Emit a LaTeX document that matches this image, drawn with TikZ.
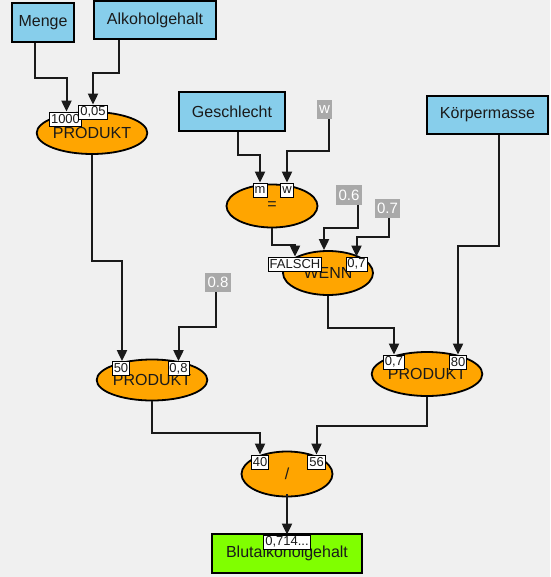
\documentclass[tikz,border=0pt]{standalone}
\usepackage{fontspec}
\setmainfont{Liberation Sans}
\usetikzlibrary{shapes.geometric,arrows.meta}
\definecolor{bg}{HTML}{F0F0F0}
\definecolor{sky}{HTML}{87CEEB}
\definecolor{org}{HTML}{FFA500}
\definecolor{grn}{HTML}{80FF00}
\definecolor{gry}{HTML}{A9A9A9}
\definecolor{txt}{HTML}{1A1A1A}
\begin{document}
\begin{tikzpicture}[x=1pt,y=-1pt,
  inbox/.style={rectangle,draw=black,line width=1.8pt,fill=sky,inner sep=0pt,text=txt,font=\fontsize{16}{18}\selectfont},
  op/.style={ellipse,draw=black,line width=1.8pt,fill=org,inner sep=0pt,text=txt,font=\fontsize{16}{18}\selectfont},
  const/.style={rectangle,fill=gry,text=white,inner xsep=2.5pt,inner ysep=0pt,minimum height=19pt,font=\fontsize{15}{17}\selectfont},
  val/.style={rectangle,draw=black,line width=0.8pt,fill=white,inner xsep=1.5pt,inner ysep=0pt,minimum height=14pt,text=txt,font=\fontsize{13}{14}\selectfont},
  conn/.style={line width=2pt,draw=txt,-{Triangle[width=10pt,length=11pt]}}]
\useasboundingbox (0,0) rectangle (550,577);
\fill[bg] (0,0) rectangle (550,577);

% input boxes
\node[inbox,minimum width=62pt,minimum height=39pt] (menge) at (43,22.5) {Menge};
\node[inbox,minimum width=122pt,minimum height=38pt] (alk) at (155,20) {Alkoholgehalt};
\node[inbox,minimum width=106pt,minimum height=39pt] (gesch) at (232,111.5) {Geschlecht};
\node[inbox,minimum width=121pt,minimum height=38pt] (koerp) at (487.5,115) {Körpermasse};
\node[inbox,fill=grn,minimum width=150pt,minimum height=39pt] (blut) at (287,553.5) {Blutalkoholgehalt};

% constants
\node[const] (cw) at (324.5,109.5) {w};
\node[const] (c06) at (349,195) {0.6};
\node[const] (c07) at (387.5,208.5) {0.7};
\node[const] (c08) at (218,282.5) {0.8};

% operators
\node[op,minimum width=108pt,minimum height=42pt] (p1) at (92,133) {PRODUKT};
\node[op,minimum width=91pt,minimum height=43pt] (eq) at (272,206) {=};
\node[op,minimum width=90pt,minimum height=44pt] (wenn) at (328,273) {WENN};
\node[op,minimum width=108pt,minimum height=41pt] (p2) at (152,380) {PRODUKT};
\node[op,minimum width=108pt,minimum height=44pt] (p3) at (427,374) {PRODUKT};
\node[op,minimum width=91pt,minimum height=45pt] (div) at (287,474) {/};

% value labels
\node[val] (l1000) at (65.5,119) {1000};
\node[val] (l005) at (93,112) {0,05};
\node[val] (lm) at (260,190) {m};
\node[val] (lw) at (287,190) {w};
\node[val] (lfalsch) at (295,264) {FALSCH};
\node[val] (l07a) at (356.5,264) {0,7};
\node[val] (l50) at (121,368.5) {50};
\node[val] (l08) at (178.5,368.5) {0,8};
\node[val] (l07b) at (394,362) {0,7};
\node[val] (l80) at (458,362) {80};
\node[val] (l40) at (260,462) {40};
\node[val] (l56) at (316.5,462) {56};
\node[val] (l0714) at (287,542) {0,714...};

% connectors
\draw[conn] ([xshift=-8pt]menge.south) -- ++(0,35) -| ([xshift=1pt]l1000.north);
\draw[conn] ([xshift=-36pt]alk.south) -- ++(0,33) -| (l005.north);
\draw[conn] ([xshift=6pt]gesch.south) -- ++(0,23) -| (lm.north);
\draw[conn] ([xshift=4.5pt]cw.south) -- ++(0,32) -| (lw.north);
\draw[conn] (eq.south) -- ++(0,17) -| (lfalsch.north);
\draw[conn] ([xshift=9pt]c06.south) -- ++(0,23) -| ([xshift=-4pt]wenn.north);
\draw[conn] ([xshift=1.5pt]c07.south) -- ++(0,19) -| (l07a.north);
\draw[conn] (p1.south) -- ++(0,106) -| ([xshift=1pt]l50.north);
\draw[conn] ([xshift=-2pt]c08.south) -- ++(0,35) -| (l08.north);
\draw[conn] (wenn.south) -- ++(0,32) -| (l07b.north);
\draw[conn] ([xshift=11.5pt]koerp.south) -- ++(0,111) -| (l80.north);
\draw[conn] (p2.south) -- ++(0,32) -| (l40.north);
\draw[conn] (p3.south) -- ++(0,29) -| (l56.north);
\draw[conn] ([yshift=3pt]div.south) -- (l0714.north);
\end{tikzpicture}
\end{document}
